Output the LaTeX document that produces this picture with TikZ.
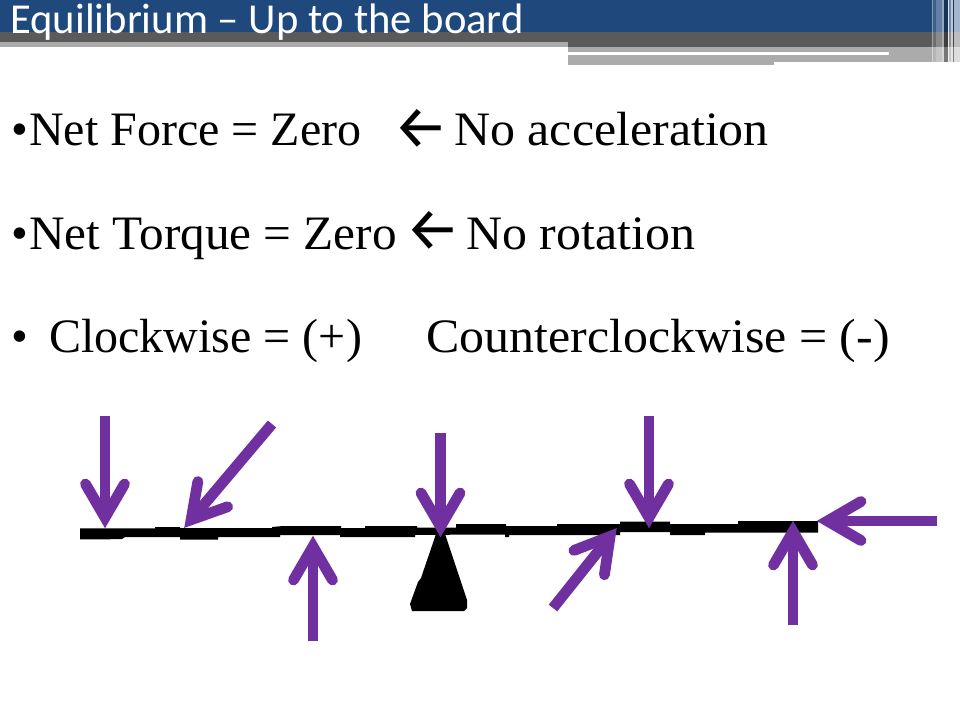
\documentclass[tikz,border=0pt]{standalone}
\usepackage{fontspec}
\setmainfont{Liberation Serif}
\newfontfamily\titlefont{Carlito}
\newfontfamily\bodyfont{Liberation Serif}
\newfontfamily\bodywide[FakeStretch=1.04]{Liberation Serif}
\newfontfamily\bodymid[FakeStretch=1.026]{Liberation Serif}
\newfontfamily\arrowfont{Fira Sans}
\definecolor{hdrblue}{HTML}{1F497D}
\definecolor{hdrdark}{HTML}{5A5A5A}
\definecolor{hdrlight}{HTML}{ABABAB}
\definecolor{forcecol}{HTML}{7030A0}
\usetikzlibrary{calc}
\tikzset{
  x=0.75pt,y=-0.75pt,
  bodytext/.style={anchor=base west,inner sep=0pt,font=\bodyfont\fontsize{36}{42}\selectfont,text=black},
  widetext/.style={bodytext,font=\bodywide\fontsize{36}{42}\selectfont},
  midtext/.style={bodytext,font=\bodymid\fontsize{36}{42}\selectfont},
  arrowtext/.style={anchor=base west,inner sep=0pt,font=\arrowfont\fontsize{46}{50}\selectfont,text=black},
  titletext/.style={anchor=base west,inner sep=0pt,font=\titlefont\fontsize{32}{36}\selectfont,text=white},
  forcestem/.style={draw=forcecol,line width=8.1pt,line cap=butt},
  forcehead/.style={draw=forcecol,line width=8.1pt,line cap=round,line join=miter,miter limit=20},
}
\newcommand{\forcearrow}[3]{% tail, tip, angle of travel
  \draw[forcestem] (#1) -- ($(#2)!10pt!(#1)$);
  \draw[forcehead,shift={(#2)},rotate=#3] (-43,-19.5) -- (-9.5,0) -- (-43,19.5);
}
\begin{document}
\begin{tikzpicture}
\useasboundingbox (0,0) rectangle (960,720);
\fill[white] (0,0) rectangle (960,720);
% header
\fill[hdrblue] (0,0) rectangle (960,32);
\fill[hdrdark] (0,32) rectangle (960,42);
\fill[hdrlight] (0,42) rectangle (568,47);
\fill[hdrdark] (568,42) rectangle (960,47);
\fill[hdrlight] (568,47) rectangle (960,62);
\fill[hdrlight] (568,62) rectangle (774,65);
\fill[white] (568,52) rectangle (889,55);
% vertical stripes
\fill[white,opacity=.45] (932,0) rectangle (933,62);
\fill[white,opacity=.12] (933,0) rectangle (936,62);
\fill[white,opacity=.30] (936,0) rectangle (941.7,62);
\fill[white,opacity=.50] (941.7,0) rectangle (944,62);
\fill[black,opacity=.30] (944,0) rectangle (948,62);
\fill[white,opacity=.85] (948,0) rectangle (949,65);
\fill[white,opacity=.35] (949,0) rectangle (951,65);
\fill[white,opacity=.70] (951,0) rectangle (953,65);
\fill[black,opacity=.25] (953,0) rectangle (954.3,65);
\fill[white,opacity=.60] (954.3,0) rectangle (960,65);
\fill[white] (942,62) rectangle (960,70);
% texts
\node[titletext] (title) at (10,34) {Equilibrium – Up to the board};
\node[bodytext] (b1) at (11,145.5) {•};
\node[bodytext] (t1) at (29,145.5) {Net Force = Zero};
\node[arrowtext] (a1) at (393,149) {←};
\node[widetext] (t1b) at (454,145.5) {No acceleration};
\node[bodytext] (b2) at (11,249.5) {•};
\node[midtext] (t2) at (29,249.5) {Net Torque = Zero};
\node[arrowtext] (a2) at (405,251) {←};
\node[widetext] (t2b) at (466,249.5) {No rotation};
\node[bodytext] (b3) at (11,352.5) {•};
\node[bodytext] (t3) at (49,352.5) {Clockwise = (+)};
\node[widetext] (t3b) at (426,352.5) {Counterclockwise = (-)};
% beam
\fill[black] (80,528.3) -- (155,528.3) -- (155,527) -- (180,527) -- (180,528) -- (272,528) -- (272,527) -- (283,526) -- (341,526) -- (341,528) -- (365,528) -- (365,526) -- (417,526) -- (417,527.5) -- (456,527.5) -- (456,524) -- (506,524) -- (506,526) -- (557,526) -- (557,524) -- (620,524) -- (620,521.7) -- (670,521.7) -- (670,524) -- (738,524) -- (738,521) -- (818,521)
 -- (818,532.7) -- (705,532.7) -- (705,535) -- (670,535) -- (670,532) -- (620,532) -- (620,535) -- (509,535) -- (509,537) -- (505,537) -- (505,534.7) -- (456,534.7) -- (415,535) -- (415,537) -- (340,537) -- (340,535) -- (280,535) -- (280,537) -- (218,537) -- (218,539.5) -- (180,539.5) -- (180,537) -- (125,537) -- (122,539) -- (108,539.3) -- (80,539.3) -- cycle;
% fulcrum
\fill[black] (436,534) -- (445,534) -- (467,600) -- (467,608) -- (464,611) -- (412,611) -- (410,604) -- (418,582) -- (421,578) -- cycle;
% force arrows
\coordinate (f1a) at (105,416); \coordinate (f1b) at (105,527);
\coordinate (f2a) at (272,424); \coordinate (f2b) at (185,527);
\coordinate (f3a) at (313,641); \coordinate (f3b) at (313,537);
\coordinate (f4a) at (440.5,433); \coordinate (f4b) at (440.5,536);
\coordinate (f5a) at (553,608); \coordinate (f5b) at (616,529);
\coordinate (f6a) at (649,416); \coordinate (f6b) at (649,527);
\coordinate (f7a) at (793,625); \coordinate (f7b) at (793,522);
\coordinate (f8a) at (937,521); \coordinate (f8b) at (818,521);
\forcearrow{f1a}{f1b}{-90}
\forcearrow{f2a}{f2b}{-130.2}
\forcearrow{f3a}{f3b}{90}
\forcearrow{f4a}{f4b}{-90}
\forcearrow{f5a}{f5b}{51.4}
\forcearrow{f6a}{f6b}{-90}
\forcearrow{f7a}{f7b}{90}
\forcearrow{f8a}{f8b}{180}
\end{tikzpicture}
\end{document}
